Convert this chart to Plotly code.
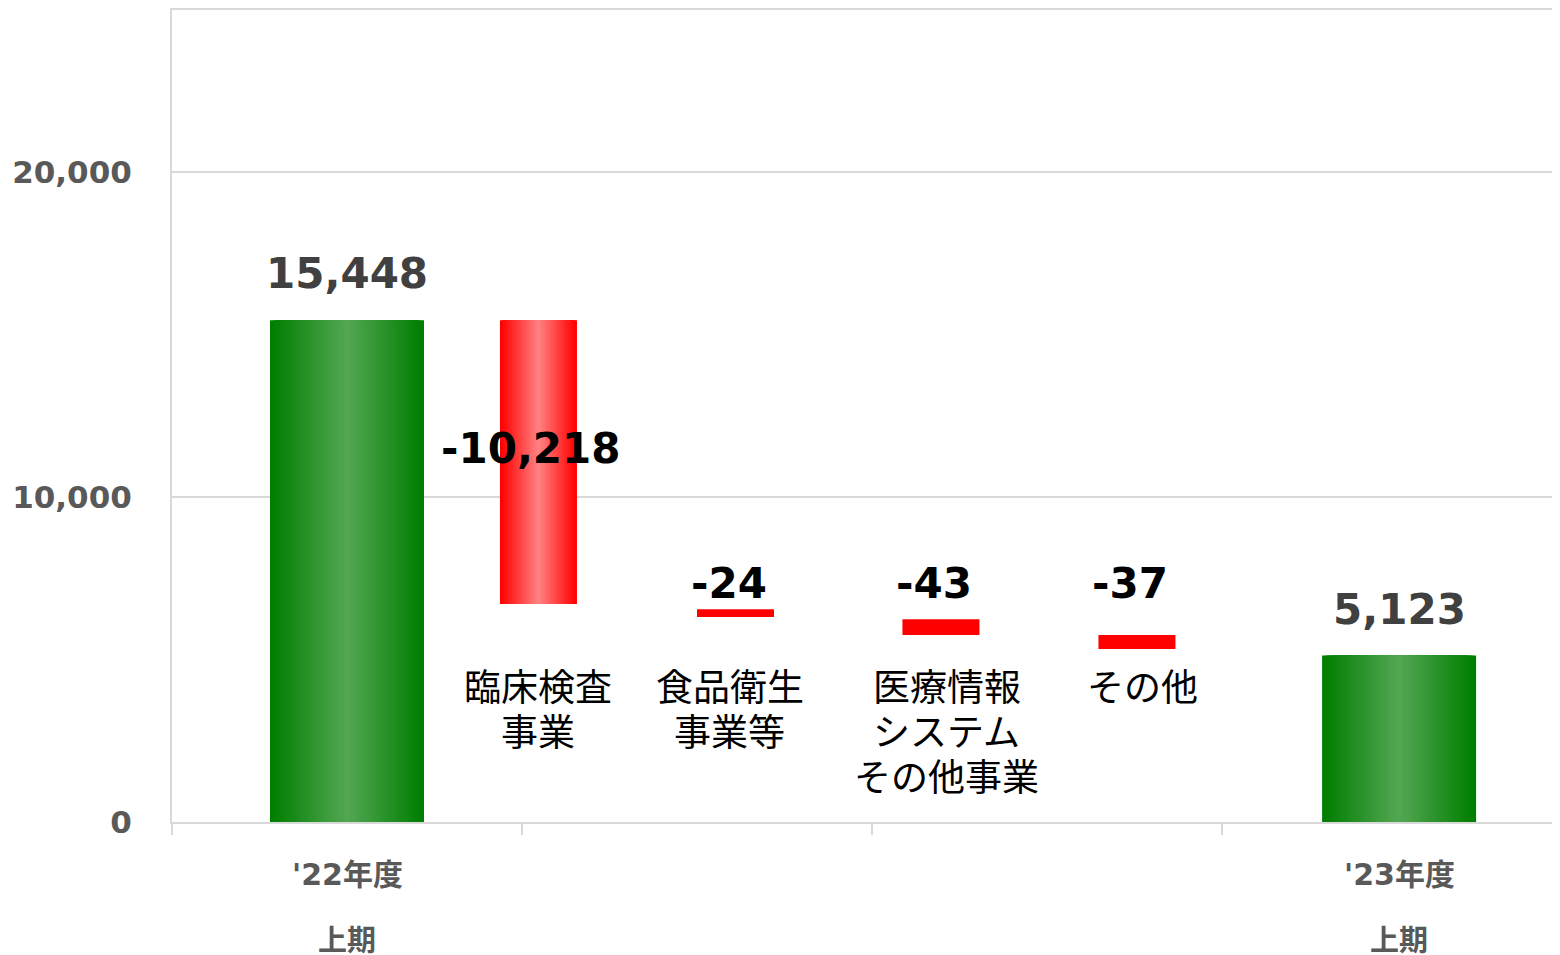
import plotly.graph_objects as go

# data (units as shown on the axis)
categories = ["'22年度上期", "臨床検査事業", "食品衛生事業等",
              "医療情報システムその他事業", "その他", "'23年度上期"]
cat_labels = ["", "臨床検査<br>事業", "食品衛生<br>事業等",
              "医療情報<br>システム<br>その他事業", "その他", ""]
values = [15448, -10218, -24, -43, -37, 5123]
# drawn extent of each bar (the small steps are not to scale in the original)
bar_bottom = [0, 6708, 6308, 5754, 5323, 0]
bar_top = [15448, 15448, 6554, 6246, 5754, 5123]
y_ticks = [0, 10000, 20000]
y_tick_labels = ["0", "10,000", "20,000"]

# horizontal slot of each bar on the x axis (one unit = one tick interval)
slot = [0.5, 1.047, 1.61, 2.197, 2.757, 3.506]
# small nudges of the category text relative to its bar, in px
label_nudge = [0, 0, -6, 6, 6, 0]

NUM_FONT = "Verdana, DejaVu Sans, Noto Sans CJK JP"
JP_FONT = "Noto Sans CJK JP, Noto Sans"


def mix(c1, c2, t):
    return "rgb(%d,%d,%d)" % tuple(round(a + (b - a) * t) for a, b in zip(c1, c2))


def gradient_bars(idx, width, edge, center, layers=24):
    '''stack narrower and lighter bars to fake a horizontal gradient'''
    traces = []
    for k in range(layers):
        t = k / (layers - 1)
        traces.append(go.Bar(
            x=[slot[i] for i in idx],
            y=[bar_top[i] - bar_bottom[i] for i in idx],
            base=[bar_bottom[i] for i in idx],
            width=width * (1 - k / layers),
            marker=dict(color=mix(edge, center, t), line=dict(width=0)),
            hoverinfo="skip",
            showlegend=False,
        ))
    return traces


totals = [0, 5]
big_drop = [1]
small_drops = [2, 3, 4]

fig = go.Figure()
for tr in gradient_bars(totals, 0.44, (0, 126, 0), (82, 166, 82)):
    fig.add_trace(tr)
for tr in gradient_bars(big_drop, 0.22, (255, 0, 0), (255, 128, 128)):
    fig.add_trace(tr)
fig.add_trace(go.Bar(
    x=[slot[i] for i in small_drops],
    y=[bar_top[i] - bar_bottom[i] for i in small_drops],
    base=[bar_bottom[i] for i in small_drops],
    width=0.22,
    marker=dict(color="#ff0000", line=dict(width=0)),
    hoverinfo="skip",
    showlegend=False,
))

annotations = []

# value labels
for i in totals:
    annotations.append(dict(
        x=slot[i], y=bar_top[i], xref="x", yref="y",
        text=f"{values[i]:,}", showarrow=False, yanchor="bottom", yshift=20,
        font=dict(family=NUM_FONT, size=42, color="#404040", weight="bold"),
    ))
annotations.append(dict(
    x=slot[1], y=11500, xref="x", yref="y", xshift=-7,
    text=f"{values[1]:,}", showarrow=False, yanchor="middle",
    font=dict(family=NUM_FONT, size=42, color="#000000", weight="bold"),
))
for i in small_drops:
    annotations.append(dict(
        x=slot[i], y=7330, xref="x", yref="y", xshift=-7,
        text=f"{values[i]:,}", showarrow=False, yanchor="middle",
        font=dict(family=NUM_FONT, size=42, color="#000000", weight="bold"),
    ))

# category labels under the step bars, one annotation per line (45px pitch)
for i in big_drop + small_drops:
    for k, line in enumerate(cat_labels[i].split("<br>")):
        annotations.append(dict(
            x=slot[i], y=5080, xref="x", yref="y",
            xshift=label_nudge[i], yshift=-45 * k,
            text=line, showarrow=False, yanchor="top", borderpad=0,
            font=dict(family=JP_FONT, size=37, color="#000000"),
        ))

# axis labels for the two totals
for i in totals:
    first, second = categories[i][:-2], categories[i][-2:]
    annotations.append(dict(
        x=slot[i], y=-0.065, xref="x", yref="paper", text=first,
        showarrow=False, yanchor="middle",
        font=dict(family=NUM_FONT, size=30, color="#595959", weight="bold"),
    ))
    annotations.append(dict(
        x=slot[i], y=-0.143, xref="x", yref="paper", text=second,
        showarrow=False, yanchor="middle",
        font=dict(family=JP_FONT, size=29, color="#595959", weight="bold"),
    ))

fig.update_layout(
    width=1552, height=947,
    margin=dict(l=164, r=0, t=2, b=133),
    barmode="overlay",
    plot_bgcolor="white", paper_bgcolor="white",
    showlegend=False,
    annotations=annotations,
    xaxis=dict(
        range=[0, 1388 / 350], showgrid=False, zeroline=False,
        showline=True, linecolor="#d9d9d9", linewidth=2, mirror=True,
        tickvals=[0, 1, 2, 3], ticks="outside", ticklen=11,
        tickcolor="#d9d9d9", tickwidth=2, showticklabels=False,
    ),
    yaxis=dict(
        range=[0, 25000], tickvals=y_ticks, ticktext=y_tick_labels,
        showgrid=True, gridcolor="#d9d9d9", gridwidth=2, zeroline=False,
        showline=True, linecolor="#d9d9d9", linewidth=2,
        ticks="", ticklabelstandoff=32,
        tickfont=dict(family=NUM_FONT, size=31, color="#595959", weight="bold"),
    ),
)

fig.write_html("out.html")
